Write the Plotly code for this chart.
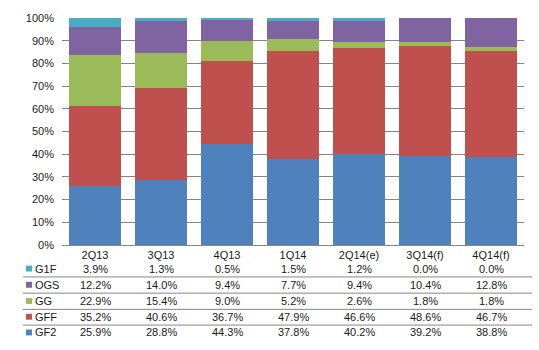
import plotly.graph_objects as go

categories = ["2Q13", "3Q13", "4Q13", "1Q14", "2Q14(e)", "3Q14(f)", "4Q14(f)"]
gf2 = [25.9, 28.8, 44.3, 37.8, 40.2, 39.2, 38.8]
gff = [35.2, 40.6, 36.7, 47.9, 46.6, 48.6, 46.7]
gg = [22.9, 15.4, 9.0, 5.2, 2.6, 1.8, 1.8]
ogs = [12.2, 14.0, 9.4, 7.7, 9.4, 10.4, 12.8]
g1f = [3.9, 1.3, 0.5, 1.5, 1.2, 0.0, 0.0]
y_ticks = list(range(0, 101, 10))
y_tick_labels = [f"{t}%" for t in y_ticks]

series = [("GF2", gf2, "#4F81BD"), ("GFF", gff, "#C0504D"), ("GG", gg, "#9BBB59"),
          ("OGS", ogs, "#8064A2"), ("G1F", g1f, "#4BACC6")]

W, H = 539, 350
L, R, T, B = 62, 15, 14, 105
pw, ph = W - L - R, H - T - B

def px_x(x):
    return (x - L) / pw

def px_y(y):
    return (H - B - y) / ph

fig = go.Figure()
for name, vals, col in series:
    fig.add_trace(go.Bar(x=categories, y=vals, name=name, marker=dict(color=col, line=dict(width=0))))

font = dict(family="Liberation Sans, Arial, sans-serif", size=11, color="#1a1a1a")

# table rows (top to bottom)
row_order = list(reversed(series))
row_y = [269, 285.5, 302, 318, 334]
anns = []
shapes = []
for (name, vals, col), ypx in zip(row_order, row_y):
    yp = px_y(ypx)
    for c, v in zip(categories, vals):
        anns.append(dict(x=c, xref="x", y=yp, yref="paper", text=f"{v:.1f}%", showarrow=False,
                         font=font, xanchor="center", yanchor="middle"))
    anns.append(dict(x=px_x(33), xref="paper", y=yp, yref="paper", text=name, showarrow=False,
                     font=font, xanchor="left", yanchor="middle"))
    shapes.append(dict(type="rect", xref="paper", yref="paper", x0=px_x(26), x1=px_x(32),
                       y0=px_y(ypx + 3), y1=px_y(ypx - 3), fillcolor=col, line=dict(width=0)))

for ypx in [277.5, 294, 310.5, 326.5]:
    shapes.append(dict(type="line", xref="paper", yref="paper", x0=px_x(23), x1=px_x(532),
                       y0=px_y(ypx), y1=px_y(ypx), line=dict(color="#868686", width=1)))

fig.update_layout(
    barmode="stack", barnorm="percent", bargap=0.2,
    width=W, height=H, margin=dict(l=L, r=R, t=T, b=B),
    paper_bgcolor="white", plot_bgcolor="white",
    showlegend=False, font=font,
    annotations=anns, shapes=shapes,
    xaxis=dict(showgrid=False, showline=True, linecolor="#868686", linewidth=1,
               ticks="", tickfont=font),
    yaxis=dict(range=[0, 100], tickmode="array", tickvals=y_ticks, ticktext=y_tick_labels,
               showgrid=True, gridcolor="#868686", gridwidth=1, zeroline=False,
               showline=False, ticks="", ticklabelstandoff=7, tickfont=font),
)

fig.write_html("out.html")
